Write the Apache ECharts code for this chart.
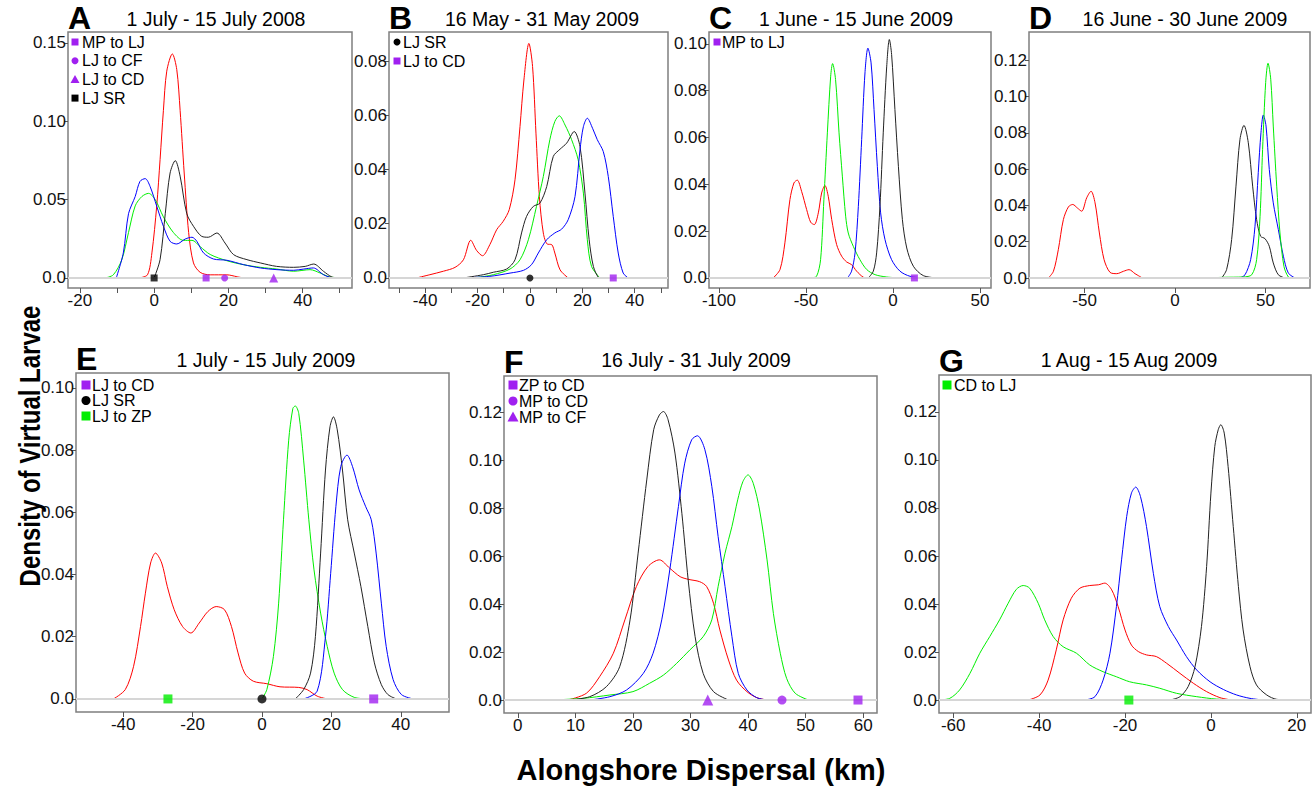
<!DOCTYPE html>
<html>
<head>
<meta charset="utf-8">
<script src="https://cdn.jsdelivr.net/npm/echarts@6/dist/echarts.min.js"></script>
<style>html,body{margin:0;padding:0;background:#fff}#c{width:1313px;height:788px}</style>
</head>
<body>
<div id="c"></div>
<script>
// ===== DATA (km, density) =====
const A_red   = [[-4.2,0],[-1.8,0.002],[-0.6,0.016],[0.7,0.046],[1.6,0.0755],[2.5,0.107],[3.4,0.132],[4.9,0.143],[6.1,0.133],[7.0,0.107],[8.1,0.067],[9.3,0.029],[10.6,0.0096],[12.4,0.0036],[15.1,0.002],[19.6,0.002],[22.3,0.0008],[24,0]];
const A_blue  = [[-10.2,0],[-8.3,0.016],[-6.9,0.041],[-5.1,0.052],[-3.8,0.0617],[-2.4,0.0634],[-1.1,0.0585],[0.7,0.0458],[2.5,0.033],[4.3,0.0234],[6.1,0.0217],[8.4,0.0249],[10.2,0.026],[11.5,0.0234],[13.3,0.016],[16,0.0121],[19.6,0.0113],[24.1,0.0085],[28.6,0.0064],[33.1,0.0053],[37.6,0.0049],[40.3,0.0057],[42.9,0.0064],[45.6,0.0021],[47.4,0.0004],[49.2,0]];
const A_green = [[-13.2,0],[-11,0.002],[-8.7,0.0117],[-6.9,0.029],[-5.1,0.046],[-3.3,0.052],[-1.5,0.054],[0.3,0.05],[2.5,0.039],[5.2,0.029],[7.9,0.024],[10.2,0.024],[12.4,0.020],[15.1,0.015],[19.6,0.011],[24,0.0085],[28.6,0.0068],[33,0.0057],[37.6,0.0043],[42,0.0053],[44.7,0.0032],[47.4,0.0006],[52.8,0]];
const A_black = [[0,0],[1.6,0.0117],[3.0,0.041],[4.3,0.067],[5.7,0.0749],[7.0,0.065],[8.8,0.041],[10.6,0.033],[12.8,0.0266],[14.6,0.026],[16.9,0.0287],[19.1,0.0223],[21.4,0.0149],[25,0.0117],[28.6,0.0096],[33,0.0074],[37.6,0.0068],[40.7,0.0074],[43,0.0089],[45.6,0.0043],[47.9,0.0006],[50,0]];
const A_markX = [14.0, 19.0, 32.2, 0];
const A_legend = ['MP to LJ', 'LJ to CF', 'LJ to CD', 'LJ SR'];

const B_red   = [[-43.3,0],[-38.2,0.0012],[-33,0.0025],[-28.6,0.0039],[-25.4,0.0067],[-22.6,0.0139],[-20.4,0.0102],[-18.1,0.0082],[-15.3,0.0123],[-12.7,0.0178],[-10.2,0.0209],[-7.9,0.0252],[-5.7,0.0362],[-3.8,0.0558],[-2.3,0.073],[-0.4,0.0865],[1.0,0.078],[2.3,0.0534],[3.6,0.030],[5.1,0.0166],[6.6,0.0125],[8.3,0.0123],[9.5,0.0092],[11.5,0.003],[14.6,0]];
const B_green = [[-28.6,0],[-20.4,0.0002],[-14,0.0012],[-7.6,0.0033],[-3.8,0.0067],[-0.6,0.0141],[2.5,0.0264],[5.1,0.0374],[7.6,0.051],[9.5,0.0577],[11.2,0.0598],[13.4,0.0564],[15.9,0.051],[18.4,0.0436],[20.4,0.0313],[21.9,0.0141],[23.5,0.0043],[26.7,0]];
const B_black = [[-25.4,0],[-17.8,0.0012],[-14,0.0021],[-8.9,0.0033],[-5.7,0.0067],[-3.2,0.0166],[-1.3,0.0227],[1.3,0.0264],[3.8,0.0276],[6.4,0.0337],[8.9,0.0448],[11.5,0.0475],[14,0.0497],[16.9,0.054],[19.1,0.0485],[21,0.0313],[22.6,0.0141],[24.2,0.0043],[26.1,0.0002],[27,0]];
const B_blue  = [[-25.4,0],[-15.3,0.0006],[-7.6,0.0018],[-2.5,0.0028],[0.6,0.0049],[3.2,0.0092],[6.4,0.0141],[9.5,0.0166],[12.1,0.018],[14.6,0.0215],[17.2,0.030],[19.1,0.0472],[20.4,0.0558],[21.9,0.0589],[23.9,0.0552],[25.7,0.051],[28,0.0466],[29.9,0.0374],[31.8,0.0227],[33.7,0.0092],[35.6,0.0018],[37.5,0]];
const B_markX = [0, 31.8];
const B_legend = ['LJ SR', 'LJ to CD'];

const C_red   = [[-68.8,0],[-64.9,0.0036],[-62.1,0.015],[-59.2,0.0335],[-56.9,0.0406],[-55,0.0418],[-52.5,0.037],[-49.6,0.0292],[-47.3,0.0238],[-45.2,0.0228],[-42.9,0.0278],[-41,0.0363],[-39.1,0.0395],[-37.2,0.0349],[-35.2,0.0249],[-32.4,0.0143],[-29.5,0.0093],[-26.6,0.0068],[-23.8,0.0057],[-20.9,0.0029],[-17,0.0003],[-14.2,0]];
const C_green = [[-46.7,0],[-43.9,0.0007],[-41.6,0.0078],[-39.7,0.0335],[-37.7,0.062],[-35.8,0.0862],[-34.7,0.0916],[-33,0.0848],[-31,0.062],[-29.1,0.0435],[-27.2,0.0264],[-25.7,0.0192],[-22.8,0.0135],[-19,0.0078],[-15.1,0.0036],[-10.3,0.0014],[-3.6,0.0004],[4,0]];
const C_blue  = [[-26.1,0],[-23.8,0.0029],[-21.8,0.0107],[-19.9,0.0306],[-18,0.0591],[-16.1,0.0876],[-14.4,0.0982],[-12.6,0.0919],[-10.9,0.072],[-9,0.0477],[-7.1,0.0278],[-4.6,0.0164],[-0.8,0.0078],[4,0.0029],[9.8,0.0007],[17.4,0]];
const C_black = [[-14.2,0],[-11.3,0.0029],[-9.4,0.0107],[-7.5,0.0306],[-5.6,0.062],[-3.6,0.0905],[-2.1,0.1019],[-0.8,0.0955],[1.1,0.072],[3.1,0.0477],[5.4,0.0249],[7.9,0.0128],[11.7,0.005],[17.4,0.001],[25.1,0]];
const C_markX = [12.3];
const C_legend = ['MP to LJ'];

const D_red   = [[-70,0],[-67.2,0.0037],[-64.5,0.0156],[-61.7,0.0322],[-58.9,0.0392],[-56.5,0.0405],[-54,0.0386],[-51.6,0.0368],[-48.8,0.0442],[-46.4,0.0478],[-44.2,0.0414],[-41.8,0.0248],[-39.2,0.0101],[-35.9,0.0031],[-32.2,0.0024],[-28.5,0.0037],[-25.4,0.0046],[-22.1,0.0024],[-18,0]];
const D_black = [[25.8,0],[28.5,0.0046],[31.3,0.0212],[33.7,0.0506],[35.9,0.0764],[38.1,0.0841],[40.5,0.0745],[42.9,0.0506],[45.1,0.0322],[47.3,0.023],[49.7,0.0217],[52.1,0.0175],[54.3,0.0083],[57.1,0.0018],[60.8,0]];
const D_blue  = [[35.9,0],[38.7,0.0018],[41.8,0.0101],[44.2,0.0285],[46,0.058],[47.5,0.08],[48.8,0.0898],[50.3,0.0837],[52.1,0.0598],[54.3,0.0414],[57.1,0.0267],[59.9,0.012],[62.6,0.0028],[66.3,0]];
const D_green = [[18.4,0],[26.7,0.0004],[37.8,0.0006],[42.4,0.0018],[45.1,0.0101],[47,0.034],[48.4,0.0708],[50.1,0.1076],[51.4,0.1183],[52.9,0.1095],[54.3,0.0837],[56.2,0.0506],[58,0.0248],[60.2,0.0064],[62.6,0.0006],[64.5,0]];
const D_markX = [];
const D_legend = [];

const E_red   = [[-42.8,0],[-39.4,0.003],[-37,0.0105],[-35,0.0233],[-33.6,0.034],[-32.1,0.0437],[-30.7,0.0469],[-28.9,0.0437],[-27.3,0.0362],[-25.3,0.0287],[-22.9,0.0233],[-20.5,0.0212],[-18.1,0.0244],[-15.6,0.0281],[-13.2,0.0297],[-10.8,0.0287],[-8.8,0.0233],[-6.9,0.0148],[-5,0.0083],[-2.5,0.0057],[1.4,0.0049],[5.2,0.0039],[10.6,0.0037],[13,0.003],[15.9,0.0009],[18.8,0]];
const E_green = [[0,0],[1.4,0.003],[3.3,0.0137],[4.8,0.0308],[6.2,0.0576],[7.7,0.0832],[8.9,0.0934],[9.6,0.0942],[10.6,0.0918],[12,0.0768],[13.5,0.0576],[15,0.0415],[16.9,0.0276],[18.8,0.0169],[20.8,0.0083],[23.2,0.003],[26.6,0.0005],[30.5,0]];
const E_black = [[9.6,0],[12,0.003],[14,0.0083],[15.4,0.0201],[16.9,0.0469],[18.3,0.0736],[19.6,0.0875],[20.6,0.0907],[21.7,0.0865],[23.2,0.0736],[24.7,0.0576],[26.6,0.0469],[28.5,0.0362],[30.5,0.0233],[32.4,0.0116],[34.4,0.0046],[36.3,0.0014],[38.7,0]];
const E_blue  = [[12,0],[15.9,0.0025],[18.3,0.0201],[19.8,0.0404],[21.3,0.0618],[22.7,0.0747],[24.5,0.0784],[26.1,0.0747],[28,0.0672],[29.9,0.0618],[31.5,0.0576],[32.9,0.0469],[34.4,0.0308],[35.8,0.0169],[37.8,0.0062],[40.2,0.0014],[43.6,0]];
const E_markX = [32.2, 0, -27.1];
const E_legend = ['LJ to CD', 'LJ SR', 'LJ to ZP'];

const F_black = [[9,0],[12.5,0.0014],[15.4,0.0056],[17.7,0.0139],[19.5,0.0334],[20.9,0.0612],[22.4,0.0917],[23.6,0.1126],[24.6,0.1188],[25.3,0.1202],[26.1,0.1168],[27.3,0.1029],[28.5,0.0778],[29.6,0.05],[30.8,0.0264],[32.2,0.0111],[34,0.0035],[36.6,0]];
const F_blue  = [[12.5,0],[16,0.0014],[18.9,0.0042],[21.8,0.0111],[23.5,0.0195],[25,0.0334],[26.4,0.0542],[27.9,0.0806],[29,0.0987],[30.2,0.1084],[31.2,0.1101],[32.5,0.1043],[33.7,0.089],[34.8,0.0681],[36,0.0473],[37.2,0.0264],[38.3,0.0111],[39.8,0.0042],[41.5,0.001],[43.3,0]];
const F_red   = [[8.7,0],[11.9,0.0028],[14.2,0.0097],[16.6,0.0195],[18.6,0.0334],[20.6,0.0473],[22.6,0.0556],[24.6,0.0584],[26.4,0.0549],[28.2,0.0514],[29.6,0.0503],[31.6,0.0493],[32.8,0.0473],[34,0.0403],[35.1,0.0292],[36.6,0.0167],[38,0.0083],[39.8,0.0035],[41.5,0.001],[43.3,0]];
const F_green = [[5.8,0],[11.3,0.0007],[16,0.0021],[20,0.0035],[22.9,0.007],[25.3,0.0104],[27.6,0.0153],[29.9,0.0209],[32.2,0.0264],[33.7,0.0334],[34.8,0.0473],[36,0.0612],[37.2,0.0723],[38.2,0.0834],[39.1,0.091],[40,0.0938],[40.9,0.0903],[42,0.0792],[43.3,0.0584],[44.4,0.0361],[45.6,0.0195],[46.7,0.009],[48.2,0.0028],[50.5,0]];
const F_markX = [59.1, 45.9, 33.0];
const F_legend = ['ZP to CD', 'MP to CD', 'MP to CF'];

const G_green = [[-63.3,0],[-60.8,0.0007],[-58.5,0.0042],[-56.1,0.0111],[-53.8,0.0195],[-51.5,0.0264],[-49.2,0.0334],[-47.2,0.0403],[-45.3,0.0461],[-43.7,0.0477],[-42.2,0.0466],[-40.2,0.0403],[-38.7,0.0334],[-36.7,0.0264],[-34.4,0.0222],[-31.3,0.0195],[-28.2,0.0146],[-25.1,0.0118],[-22,0.0097],[-18.9,0.0076],[-15,0.0063],[-11.9,0.0049],[-8,0.0028],[-3.3,0.0014],[1.3,0.0004],[6.8,0]];
const G_red   = [[-42.5,0],[-39.8,0.0021],[-37.9,0.0083],[-36,0.0209],[-34.4,0.0334],[-32.5,0.0424],[-30.5,0.0466],[-28.2,0.0477],[-26.2,0.048],[-24.7,0.0487],[-23.1,0.0459],[-21.6,0.0389],[-20,0.0292],[-18.5,0.0229],[-16.9,0.0202],[-15,0.0188],[-12.7,0.0181],[-10.3,0.0153],[-7.2,0.0111],[-4.1,0.007],[-1,0.0035],[2.1,0.001],[4.8,0]];
const G_blue  = [[-29.3,0],[-27,0.0014],[-25.1,0.0083],[-23.5,0.0195],[-22,0.0389],[-20.8,0.0584],[-19.6,0.0765],[-18.5,0.0862],[-17.5,0.0887],[-16.4,0.0848],[-15,0.0723],[-13.4,0.0528],[-11.9,0.0389],[-9.9,0.0306],[-8,0.025],[-5.7,0.0181],[-3.3,0.0125],[-0.2,0.0076],[2.9,0.0044],[6,0.0021],[9.1,0.0007],[12.2,0]];
const G_black = [[-9.5,0],[-7.2,0.0014],[-5.3,0.0056],[-3.7,0.0139],[-2.2,0.0306],[-1,0.0556],[0,0.0862],[0.9,0.1056],[1.7,0.1126],[2.3,0.1147],[3.1,0.1112],[4,0.0973],[5.2,0.0723],[6.4,0.0473],[7.5,0.0292],[9.1,0.0139],[10.6,0.0063],[13,0.0021],[15.3,0.0003],[18.8,0]];
const G_markX = [-19.1];
const G_legend = ['CD to LJ'];

// Titles and tick labels
const panelLetters = ['A','B','C','D','E','F','G'];
const panelTitles = ['1 July - 15 July 2008','16 May - 31 May 2009','1 June - 15 June 2009','16 June - 30 June 2009','1 July - 15 July 2009','16 July - 31 July 2009','1 Aug - 15 Aug 2009'];
const A_xLabels = [-20,0,20,40],   A_xTicks = [-20,-10,0,10,20,30,40,50], A_yLabels = [0,0.05,0.10,0.15];
const B_xLabels = [-40,-20,0,20,40], B_xTicks = [-50,-40,-30,-20,-10,0,10,20,30,40,50], B_yLabels = [0,0.02,0.04,0.06,0.08];
const C_xLabels = [-100,-50,0,50], C_xTicks = [-100,-50,0,50], C_yLabels = [0,0.02,0.04,0.06,0.08,0.10];
const D_xLabels = [-50,0,50],      D_xTicks = [-50,0,50], D_yLabels = [0,0.02,0.04,0.06,0.08,0.10,0.12];
const E_xLabels = [-40,-20,0,20,40], E_xTicks = [-40,-20,0,20,40], E_yLabels = [0,0.02,0.04,0.06,0.08,0.10];
const F_xLabels = [0,10,20,30,40,50,60], F_xTicks = [0,10,20,30,40,50,60], F_yLabels = [0,0.02,0.04,0.06,0.08,0.10,0.12];
const G_xLabels = [-60,-40,-20,0,20], G_xTicks = [-60,-40,-20,0,20], G_yLabels = [0,0.02,0.04,0.06,0.08,0.10,0.12];
const xTitle = 'Alongshore Dispersal (km)';
const yTitle = 'Density of Virtual Larvae';

// ===== LAYOUT & STYLE =====
const RED='#ff0000', GREEN='#00ee00', BLUE='#0000ff', BLACK='#222222', PURPLE='#a020f0';
const FONT = '"Liberation Sans", Arial, Helvetica, sans-serif';
const layout = [
  {left:68,  top:32,  right:352,  bottom:288, xMin:-23.2, xMax:53.3, yMin:-0.0064, yMax:0.157,  titleX:216, titleY:19, leg:{mx:75,  tx:82,  y0:42, dy:18.7}, ms:7},
  {left:389, top:32,  right:668,  bottom:288, xMin:-53.8, xMax:52.7, yMin:-0.0037, yMax:0.0907, titleX:542, titleY:19, leg:{mx:397, tx:403, y0:42, dy:19}, ms:7},
  {left:709, top:32,  right:991,  bottom:288, xMin:-105.7,xMax:56.3, yMin:-0.0043, yMax:0.1051, titleX:856, titleY:19, leg:{mx:717, tx:722, y0:42, dy:19}, ms:7},
  {left:1029,top:32,  right:1310, bottom:288, xMin:-80.7, xMax:74.6, yMin:-0.0055, yMax:0.1355, titleX:1185,titleY:19, leg:null, ms:7},
  {left:76,  top:373, right:449,  bottom:712, xMin:-53.6, xMax:53.9, yMin:-0.0042, yMax:0.1048, titleX:266, titleY:360, leg:{mx:86,  tx:92,  y0:385, dy:15.5}, ms:9},
  {left:504, top:376, right:877,  bottom:713, xMin:-2.4,  xMax:62.4, yMin:-0.0054, yMax:0.135,  titleX:696, titleY:360, leg:{mx:513, tx:519, y0:385, dy:16}, ms:9},
  {left:939, top:375, right:1311, bottom:713, xMin:-63.3, xMax:23.3, yMin:-0.0054, yMax:0.1354, titleX:1129,titleY:360, leg:{mx:947, tx:954, y0:385, dy:16}, ms:9}
];
const markerStyles = [
  [{s:'rect',c:PURPLE},{s:'circle',c:PURPLE},{s:'triangle',c:PURPLE},{s:'rect',c:'#000'}],
  [{s:'circle',c:'#000'},{s:'rect',c:PURPLE}],
  [{s:'rect',c:PURPLE}],
  [],
  [{s:'rect',c:PURPLE},{s:'circle',c:'#000'},{s:'rect',c:'#00ee00'}],
  [{s:'rect',c:PURPLE},{s:'circle',c:PURPLE},{s:'triangle',c:PURPLE}],
  [{s:'rect',c:'#00ee00'}]
];

const curves = [
  [[A_red,RED],[A_green,GREEN],[A_blue,BLUE],[A_black,BLACK]],
  [[B_red,RED],[B_green,GREEN],[B_black,BLACK],[B_blue,BLUE]],
  [[C_red,RED],[C_green,GREEN],[C_blue,BLUE],[C_black,BLACK]],
  [[D_red,RED],[D_black,BLACK],[D_blue,BLUE],[D_green,GREEN]],
  [[E_red,RED],[E_green,GREEN],[E_black,BLACK],[E_blue,BLUE]],
  [[F_red,RED],[F_green,GREEN],[F_black,BLACK],[F_blue,BLUE]],
  [[G_green,GREEN],[G_red,RED],[G_blue,BLUE],[G_black,BLACK]]
];
const markXs = [A_markX,B_markX,C_markX,D_markX,E_markX,F_markX,G_markX];
const legends = [A_legend,B_legend,C_legend,D_legend,E_legend,F_legend,G_legend];
const xLabelsAll = [A_xLabels,B_xLabels,C_xLabels,D_xLabels,E_xLabels,F_xLabels,G_xLabels];
const xTicksAll = [A_xTicks,B_xTicks,C_xTicks,D_xTicks,E_xTicks,F_xTicks,G_xTicks];
const yLabelsAll = [A_yLabels,B_yLabels,C_yLabels,D_yLabels,E_yLabels,F_yLabels,G_yLabels];

const grids=[], xAxes=[], yAxes=[], series=[], graphics=[];
const tickColor = '#555';
layout.forEach((L,i)=>{
  grids.push({left:L.left, top:L.top, width:L.right-L.left, height:L.bottom-L.top, show:true,
    borderColor:'#7f7f7f', borderWidth:1.5, backgroundColor:'rgba(0,0,0,0)', containLabel:false, outerBoundsMode:'none'});
  xAxes.push({gridIndex:i, type:'value', position:'bottom', min:L.xMin, max:L.xMax, splitLine:{show:false},
    axisLine:{show:false, onZero:false},
    axisTick:{show:true, customValues:xTicksAll[i], length:5, lineStyle:{color:tickColor, width:1}},
    axisLabel:{customValues:xLabelsAll[i], margin:4, fontSize:17, color:'#111', fontFamily:FONT}});
  yAxes.push({gridIndex:i, type:'value', position:'left', min:L.yMin, max:L.yMax, splitLine:{show:false},
    axisLine:{show:false, onZero:false},
    axisTick:{show:true, customValues:yLabelsAll[i], length:4, lineStyle:{color:tickColor, width:1}},
    axisLabel:{customValues:yLabelsAll[i], margin:2, fontSize:17, color:'#111', fontFamily:FONT,
      formatter:v=> (Math.abs(v)<1e-12 ? '0.0' : Number(v).toFixed(2))}});
  // zero reference line
  series.push({type:'line', xAxisIndex:i, yAxisIndex:i, data:[], z:1, silent:true,
    markLine:{silent:true, symbol:['none','none'], label:{show:false}, animation:false,
      lineStyle:{color:'#d6d6d6', width:2, type:'solid'}, data:[{yAxis:0}]}});
  curves[i].forEach(([d,col])=>{
    series.push({type:'line', xAxisIndex:i, yAxisIndex:i, data:d, smooth:0.3, symbol:'none', showSymbol:false,
      lineStyle:{color:col, width:1}, itemStyle:{color:col}, z:3, silent:true});
  });
  const ms = markerStyles[i];
  if (markXs[i].length){
    series.push({type:'scatter', xAxisIndex:i, yAxisIndex:i, z:5, silent:true,
      data: markXs[i].map((x,k)=>({value:[x,0], symbol:ms[k].s, symbolSize: ms[k].s==='triangle'? L.ms+2 : L.ms, itemStyle:{color:ms[k].c}}))});
  }
  // panel letter
  graphics.push({type:'text', x:L.left, y:L.top+2, z:10,
    style:{text:panelLetters[i], font:'bold 32px '+FONT, fill:'#000', align:'left', verticalAlign:'bottom'}});
  // panel title
  graphics.push({type:'text', x:L.titleX, y:L.titleY, z:10,
    style:{text:panelTitles[i], font:'19.5px '+FONT, fill:'#000', align:'center', verticalAlign:'middle'}});
  // legend
  if (L.leg){
    legends[i].forEach((name,k)=>{
      const y = L.leg.y0 + k*L.leg.dy, mx = L.leg.mx, st = ms[k], r = (L.ms)/2;
      if (st.s==='rect') graphics.push({type:'rect', z:10, shape:{x:mx-r, y:y-r, width:2*r, height:2*r}, style:{fill:st.c}});
      else if (st.s==='circle') graphics.push({type:'circle', z:10, shape:{cx:mx, cy:y, r:r}, style:{fill:st.c}});
      else graphics.push({type:'polygon', z:10, shape:{points:[[mx,y-r-1],[mx-r-1,y+r],[mx+r+1,y+r]]}, style:{fill:st.c}});
      graphics.push({type:'text', z:10, x:L.leg.tx, y:y,
        style:{text:name, font:'16px '+FONT, fill:'#000', align:'left', verticalAlign:'middle'}});
    });
  }
});
// axis titles
graphics.push({type:'text', x:701, y:770, z:10,
  style:{text:xTitle, font:'bold 29px '+FONT, fill:'#000', align:'center', verticalAlign:'middle'}});
graphics.push({type:'text', x:30, y:446, rotation:Math.PI/2, scaleY:1.25, z:10,
  style:{text:yTitle, font:'bold 24px '+FONT, fill:'#000', align:'center', verticalAlign:'middle'}});

const chart = echarts.init(document.getElementById('c'), null, {renderer:'svg', width:1313, height:788});
chart.setOption({
  animation:false,
  backgroundColor:'#ffffff',
  textStyle:{fontFamily:FONT},
  grid:grids, xAxis:xAxes, yAxis:yAxes, series:series, graphic:graphics
});
</script>
</body>
</html>
